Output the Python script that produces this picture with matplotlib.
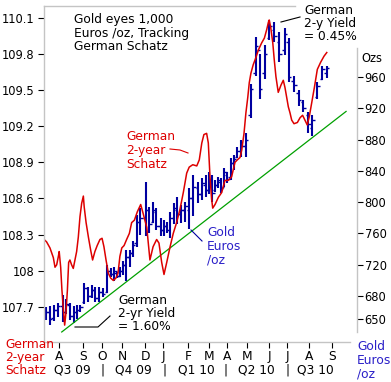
import matplotlib
matplotlib.use('Agg')
import matplotlib.pyplot as plt
from matplotlib.lines import Line2D

# x values are months after Aug 2009 (0 = "A" of Q3 09)
schatz_t = [-0.71, -0.59, -0.43, -0.27, -0.19, -0.11, -0.03, 0.01, 0.08, 0.14,
            0.20, 0.27, 0.33, 0.40, 0.46, 0.52, 0.60, 0.68, 0.76, 0.84,
            0.92, 1.00, 1.08, 1.16, 1.20, 1.29, 1.40, 1.51, 1.60, 1.71,
            1.82, 1.95, 2.05, 2.14, 2.24, 2.35, 2.46, 2.59, 2.71, 2.81,
            2.90, 2.99, 3.10, 3.22, 3.35, 3.46, 3.59, 3.73, 3.89, 4.00,
            4.18, 4.33, 4.48, 4.65, 4.76, 4.89, 5.00, 5.13, 5.29, 5.44,
            5.60, 5.76, 5.92, 6.08, 6.20, 6.37, 6.56, 6.68, 6.80, 6.90,
            7.03, 7.11, 7.19, 7.27, 7.32, 7.43, 7.59, 7.75, 7.90, 8.06,
            8.22, 8.38, 8.49, 8.62, 8.70, 8.81, 8.90, 8.99, 9.06, 9.14,
            9.25, 9.38, 9.49, 9.65, 9.78, 9.89, 9.97, 10.01, 10.08, 10.18,
            10.25, 10.33, 10.44, 10.57, 10.68, 10.76, 10.84, 10.92, 11.00, 11.08,
            11.19, 11.35, 11.48, 11.60, 11.71, 11.82, 11.92, 12.03, 12.16, 12.30,
            12.46, 12.62, 12.75]
schatz_price = [108.26, 108.24, 108.19, 108.11, 108.03, 108.05, 108.12, 108.16, 108.03, 107.84,
                107.70, 107.55, 107.65, 107.84, 108.07, 108.09, 108.05, 108.02, 108.09, 108.16,
                108.28, 108.45, 108.56, 108.62, 108.53, 108.40, 108.28, 108.17, 108.09, 108.16,
                108.21, 108.26, 108.27, 108.20, 108.09, 107.98, 107.94, 107.92, 107.94, 107.98,
                108.12, 108.19, 108.21, 108.26, 108.31, 108.40, 108.42, 108.49, 108.55, 108.48,
                108.36, 108.09, 108.20, 108.26, 108.23, 108.07, 107.97, 108.07, 108.20, 108.31,
                108.40, 108.51, 108.65, 108.81, 108.86, 108.88, 108.87, 108.92, 109.06, 109.13,
                109.14, 109.06, 108.78, 108.59, 108.52, 108.55, 108.61, 108.65, 108.75, 108.75,
                108.78, 108.90, 108.92, 108.94, 109.00, 109.14, 109.31, 109.44, 109.56, 109.64,
                109.71, 109.77, 109.83, 109.89, 109.93, 110.00, 110.06, 110.08, 110.02, 109.89,
                109.75, 109.61, 109.48, 109.54, 109.58, 109.52, 109.44, 109.36, 109.31, 109.25,
                109.22, 109.23, 109.27, 109.29, 109.25, 109.21, 109.28, 109.39, 109.52, 109.67,
                109.73, 109.78, 109.81]

gold_t = [-0.63, -0.45, -0.26, -0.07, 0.17, 0.35, 0.51, 0.70, 0.88, 1.02,
          1.20, 1.40, 1.56, 1.71, 1.90, 2.08, 2.30, 2.48, 2.62, 2.76,
          2.90, 3.05, 3.19, 3.38, 3.51, 3.70, 3.86, 4.12, 4.30, 4.48,
          4.64, 4.84, 4.98, 5.14, 5.29, 5.49, 5.62, 5.81, 6.00, 6.20,
          6.38, 6.63, 6.81, 6.98, 7.14, 7.29, 7.43, 7.57, 7.71, 7.86,
          8.02, 8.19, 8.33, 8.48, 8.67, 8.90, 9.12, 9.36, 9.57, 9.79,
          10.01, 10.26, 10.49, 10.74, 10.94, 11.19, 11.41, 11.62, 11.87, 12.05,
          12.29, 12.54, 12.76]
gold_high = [666, 667, 669, 671, 681, 676, 671, 667, 669, 669,
             697, 692, 694, 692, 692, 690, 720, 716, 717, 711,
             717, 725, 739, 739, 750, 784, 793, 826, 794, 800,
             793, 780, 777, 775, 787, 799, 807, 796, 800, 818,
             835, 826, 831, 835, 839, 835, 828, 832, 831, 844,
             839, 857, 860, 871, 880, 888, 951, 1011, 989, 1001,
             1033, 1030, 1018, 1023, 1010, 961, 943, 931, 915, 911,
             954, 974, 974]
gold_low = [649, 643, 648, 653, 647, 657, 649, 646, 651, 660,
            670, 672, 677, 672, 672, 679, 684, 704, 699, 703,
            704, 707, 699, 717, 730, 743, 758, 757, 761, 773,
            764, 757, 757, 761, 754, 772, 772, 773, 775, 766,
            782, 799, 803, 807, 810, 800, 813, 818, 812, 819,
            825, 828, 841, 857, 858, 858, 908, 961, 932, 958,
            1007, 1005, 979, 988, 954, 941, 923, 915, 888, 885,
            932, 956, 959]
gold_open = [655, 660, 652, 662, 667, 660, 668, 655, 660, 662,
             672, 690, 680, 688, 678, 685, 685, 712, 708, 710,
             706, 712, 720, 730, 735, 748, 775, 780, 790, 775,
             788, 770, 765, 770, 765, 780, 790, 785, 790, 790,
             805, 818, 810, 822, 815, 828, 815, 822, 826, 820,
             835, 832, 850, 858, 866, 872, 912, 965, 995, 965,
             1010, 1020, 1005, 995, 1005, 955, 940, 928, 912, 895,
             935, 958, 965]
gold_close = [660, 650, 662, 667, 660, 670, 655, 660, 662, 666,
              690, 680, 688, 678, 685, 682, 712, 708, 712, 706,
              712, 720, 730, 735, 745, 775, 780, 790, 772, 790,
              770, 765, 770, 765, 780, 792, 785, 790, 795, 805,
              820, 810, 825, 815, 830, 812, 822, 828, 818, 838,
              830, 850, 855, 866, 872, 880, 945, 1000, 945, 990,
              1025, 1012, 990, 1015, 960, 950, 930, 920, 900, 905,
              948, 970, 972]

trend_t = [0.13, 13.67]
trend_oz = [634, 916]

month_pos = [0, 1.14, 2.05, 3.0, 4.1, 4.95, 6.14, 7.14, 8.0, 8.95, 10.0, 10.86, 11.9, 13.0]
month_labels = ['A', 'S', 'O', 'N', 'D', 'J', 'F', 'M', 'A', 'M', 'J', 'J', 'A', 'S']
quarter_pos = [0.62, 3.52, 6.52, 9.38, 12.19]
quarter_labels = ['Q3 09', 'Q4 09', 'Q1 10', 'Q2 10', 'Q3 10']
quarter_breaks = [2.05, 5.0, 7.95, 10.9]

schatz_ticks = [107.7, 108.0, 108.3, 108.6, 108.9, 109.2, 109.5, 109.8, 110.1]
schatz_ticklabels = ['107.7', '108', '108.3', '108.6', '108.9', '109.2', '109.5', '109.8', '110.1']
gold_ticks = [650, 680, 720, 760, 800, 840, 880, 920, 960]

RED = '#dd0000'
BLUE = '#0000a0'
LBLUE = '#2a1fc8'
GREEN = '#00a000'
GRAY = '#c4c4c4'
FS = 8.3     # tick labels
AFS = 8.8    # annotation text
STEP = 13.5  # line step of annotations, px

W, H = 391, 382


def px(x, y):
    return x / W, 1 - y / H


def note(x, y, lines, color='black'):
    # one text per line so the line step matches the original
    for i, s in enumerate(lines):
        fig.text(*px(x, y + i * STEP), s, color=color, fontsize=AFS,
                 ha='left', va='center')


fig = plt.figure(figsize=(W / 100, H / 100), dpi=100)
fig.patch.set_facecolor('white')
ax = fig.add_axes([44 / W, 1 - 342 / H, (357 - 44) / W, (342 - 6) / H])
ax2 = ax.twinx()

# gold OHLC bars on the right axis
ax.vlines(gold_t, gold_low, gold_high, color=BLUE, lw=1.5)
tw = 0.12
ax.hlines(gold_open, [t - tw for t in gold_t], gold_t, color=BLUE, lw=1.0)
ax.hlines(gold_close, gold_t, [t + tw for t in gold_t], color=BLUE, lw=1.0)
ax.plot(trend_t, trend_oz, color=GREEN, lw=0.9)

# schatz line on the left axis
ax2.plot(schatz_t, schatz_price, color=RED, lw=1.1)

ax.set_xlim(-0.714, 14.19)
ax.set_ylim(621.2, 1050.8)
ax2.set_ylim(107.41, 110.196)

ax.yaxis.tick_right()
ax.set_yticks(gold_ticks)
ax.set_yticklabels([str(v) for v in gold_ticks])
ax.tick_params(axis='y', direction='out', length=4, width=0.8, pad=1.5,
               labelsize=FS, colors='black')
ax2.yaxis.tick_left()
ax2.set_yticks(schatz_ticks)
ax2.set_yticklabels(schatz_ticklabels)
ax2.tick_params(axis='y', direction='out', length=4, width=0.8, pad=3,
                labelsize=FS, colors='black')

ax.set_xticks(month_pos)
ax.set_xticklabels(month_labels)
ax.tick_params(axis='x', direction='out', length=4, width=0.8, pad=1.5,
               labelsize=AFS, colors='black')

for a in (ax, ax2):
    for s in a.spines.values():
        s.set_color(GRAY)
        s.set_linewidth(1.0)
ax2.spines['right'].set_visible(False)
ax2.spines['top'].set_visible(False)
ax2.spines['bottom'].set_visible(False)
ax.spines['left'].set_visible(False)
ax.spines['top'].set_bounds(-0.714, 11.24)
ax.spines['right'].set_bounds(633.9, 997.1)
ax.spines['bottom'].set_bounds(-0.714, 13.86)

xt = ax.get_xaxis_transform()
for p, q in zip(quarter_pos, quarter_labels):
    ax.text(p, -0.084, q, transform=xt, ha='center', va='center', fontsize=AFS)
for p in quarter_breaks:
    ax.text(p, -0.084, '|', transform=xt, ha='center', va='center', fontsize=AFS)

fig.text(*px(361, 58), 'Ozs', fontsize=FS, va='center', ha='left')

# annotations
note(74, 20, ['Gold eyes 1,000', 'Euros /oz, Tracking', 'German Schatz'])
note(126, 137, ['German', '2-year', 'Schatz'], RED)
note(304, 10, ['German', '2-y Yield', '= 0.45%'])
note(118, 300, ['German', '2-yr Yield', '= 1.60%'])
note(207, 233, ['Gold', 'Euros', '/oz'], LBLUE)
note(5, 344, ['German', '2-year', 'Schatz'], RED)
note(357, 347, ['Gold', 'Euros', '/oz'], LBLUE)

leaders = [
    ([170, 180, 188], [149, 150, 153], RED),
    ([281, 300], [22, 17], 'black'),
    ([75, 98, 110], [327, 327, 316], 'black'),
    ([191, 202], [230, 241], BLUE),
]
for xs, ys, c in leaders:
    fig.add_artist(Line2D([x / W for x in xs], [1 - y / H for y in ys],
                          color=c, lw=0.8))

fig.savefig('out.png', dpi=100)
